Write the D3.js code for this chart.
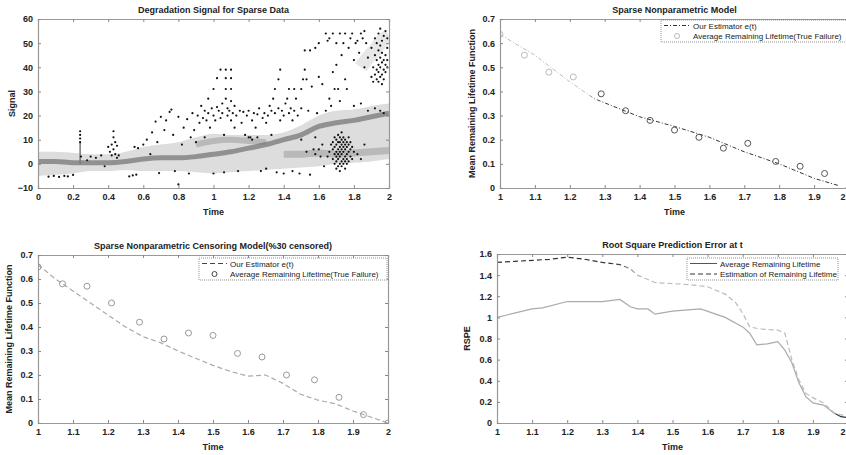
<!DOCTYPE html>
<html lang="en">
<head>
<meta charset="utf-8">
<title>Sparse degradation signal and remaining lifetime</title>
<script src="https://d3js.org/d3.v7.min.js"></script>
<style>
  body { margin: 0; background: #fff; }
  svg { display: block; font-family: "Liberation Sans", Arial, sans-serif; }
  .tick text { font-size: 9px; font-weight: bold; fill: #222; }
  .title { font-size: 9px; font-weight: bold; fill: #222; text-anchor: middle; }
  .alabel { font-size: 9px; font-weight: bold; fill: #222; text-anchor: middle; }
  .legend text { font-size: 8px; fill: #222; }
</style>
</head>
<body>
<div id="chart"></div>
<script>
// ---- panel 1: degradation signal ----
var bandTimes = [0, 0.1, 0.2, 0.3, 0.4, 0.5, 0.6, 0.7, 0.8, 0.9, 1.0, 1.1, 1.2, 1.3, 1.4, 1.5, 1.6, 1.7, 1.8, 1.9, 2.0];
var mainTrend = [1, 1, 0.5, 0.5, 0.5, 1, 2, 2.5, 2.5, 3, 4, 5, 6.5, 8, 10, 12, 15.5, 17, 18, 19.5, 21];
var hazeLow   = [-5, -4.5, -4, -3, -3, -2.5, -3, -3, -3, -3.5, -4, -3.5, -3, -2.5, -2, -1.5, -1, 0, 0.5, 1, 2];
var hazeHigh  = [5, 5, 4.5, 4, 4, 5, 7, 8, 9, 11, 12.5, 12, 12, 12, 13, 16, 20, 22, 22.5, 24, 25];
var upperBandTimes = [0.9, 1.0, 1.1, 1.2, 1.3];
var upperBand      = [8, 9.5, 10, 9.5, 9];
var lowerBandTimes = [1.4, 1.5, 1.6, 1.7, 1.8, 1.9, 2.0];
var lowerBand      = [4, 4, 4.5, 4, 4.5, 5, 5.5];
var topBandTimes = [1.84, 1.88, 1.92, 1.96, 2.0];
var topBand      = [40, 44, 47, 51, 53];

var signalDots = [
  [0.06,-5.3],[0.09,-5],[0.12,-5.4],[0.15,-5],[0.17,-5.2],[0.2,-4.6],
  [0.24,13.5],[0.24,12],[0.24,10.5],[0.24,9],[0.245,3],
  [0.28,1.5],[0.3,3],[0.33,2.5],[0.36,3.5],[0.38,-1],
  [0.4,7],[0.41,5],[0.42,8],[0.42,3.5],[0.43,13.5],[0.43,11],[0.43,6],[0.44,9],[0.44,4],[0.45,7.5],[0.45,2.5],[0.46,3.5],
  [0.52,-5.2],[0.54,-4.8],[0.56,-4.5],[0.55,7],[0.57,6.5],[0.6,8],[0.62,10],[0.64,4],[0.65,13],[0.67,17.5],[0.68,9],
  [0.69,-3.8],[0.7,19.5],[0.72,14],[0.73,18],[0.75,21.5],[0.76,22.5],[0.77,12],[0.78,-3],[0.8,19.5],[0.8,-8.5],[0.82,8],[0.83,15],
  [0.85,18.5],[0.86,-4],[0.87,11],[0.88,21],[0.89,14],[0.9,9],[0.91,20],[0.92,17],[0.93,24],[0.94,19],[0.95,22],[0.95,11],
  [0.96,18],[0.97,27],[0.97,21],[0.98,15],[0.99,23],[1.0,20],[1.0,31],[1.0,-4],[1.01,18],[1.02,23.5],[1.02,35.5],[1.03,22],
  [1.04,19],[1.04,39],[1.05,25],[1.05,21],[1.06,12],[1.06,-3.5],[1.07,39],[1.07,35.5],[1.07,31],[1.07,27],[1.08,23],[1.08,20],
  [1.09,22],[1.1,39],[1.1,35.5],[1.1,31],[1.1,26],[1.1,18],[1.11,21],[1.12,24],[1.12,15],[1.13,20],[1.14,-3],[1.15,22],
  [1.16,17],[1.17,21.5],[1.18,12],[1.19,20],[1.2,22],[1.2,11],[1.21,11],[1.22,18],[1.22,10],[1.23,21],[1.24,15],[1.25,20.5],
  [1.25,11],[1.26,23],[1.27,-3],[1.28,19],[1.29,21],[1.3,17],[1.3,-2],[1.31,20],[1.32,24],[1.33,22],[1.33,12],[1.34,27],
  [1.35,31],[1.35,21],[1.36,-3.5],[1.37,35],[1.37,23],[1.38,39],[1.38,18],[1.39,22],[1.4,20],[1.4,-4],[1.41,25],[1.42,27],
  [1.43,21],[1.43,31],[1.44,23],[1.45,18],[1.45,-3],[1.46,31],[1.46,22],[1.47,27],[1.48,20],[1.49,-4],[1.5,31],[1.5,23],
  [1.5,10],[1.51,35],[1.52,39],[1.52,47],[1.53,35],[1.53,5],[1.54,22],[1.55,47],[1.55,-4.5],[1.56,32],[1.57,6],[1.58,48],
  [1.58,11],[1.58,4],[1.59,21],[1.6,50],[1.6,36],[1.6,6],[1.61,3],[1.62,33],[1.62,8],[1.63,-1],[1.64,22],[1.64,54],[1.65,51],
  [1.65,3],[1.66,27],[1.66,52],[1.66,5],[1.67,24],[1.67,8],[1.68,38],[1.68,54],[1.69,31],[1.7,50],[1.7,41],[1.71,31],
  [1.72,54],[1.72,26],[1.73,45],[1.74,50],[1.75,54],[1.75,35],[1.76,31],[1.77,48],[1.78,52],[1.79,54],[1.8,43],[1.8,24],
  [1.81,50],[1.82,51],[1.83,46],[1.84,54],[1.84,25],[1.85,52],[1.86,55],[1.86,40],[1.87,50],[1.88,44],[1.88,22],
  [1.68,2],[1.68,6],[1.68,9],[1.69,0],[1.69,4],[1.69,7],[1.69,11],[1.7,-2],[1.7,1],[1.7,3],[1.7,5],[1.7,8],[1.7,10],
  [1.71,-1],[1.71,2],[1.71,4],[1.71,6],[1.71,9],[1.71,12],[1.72,-3],[1.72,0],[1.72,3],[1.72,5],[1.72,7],[1.72,9],[1.72,11],
  [1.73,-1],[1.73,1],[1.73,4],[1.73,6],[1.73,8],[1.73,10],[1.73,13],[1.74,0],[1.74,2],[1.74,5],[1.74,7],[1.74,9],[1.74,11],
  [1.75,-2],[1.75,1],[1.75,3],[1.75,6],[1.75,8],[1.75,10],[1.76,0],[1.76,2],[1.76,4],[1.76,7],[1.76,9],[1.77,1],[1.77,5],
  [1.77,8],[1.77,11],[1.78,3],[1.78,6],[1.78,9],[1.79,2],[1.79,7],[1.8,5],[1.82,4],[1.84,2],[1.86,8],
  [1.9,36],[1.9,48],[1.91,34],[1.91,40],[1.92,37],[1.92,45],[1.92,52],[1.93,35],[1.93,39],[1.93,43],[1.93,50],[1.94,34],
  [1.94,38],[1.94,41],[1.94,47],[1.94,54],[1.95,36],[1.95,40],[1.95,44],[1.95,49],[1.95,56],[1.96,33],[1.96,37],[1.96,42],
  [1.96,46],[1.96,51],[1.97,35],[1.97,39],[1.97,43],[1.97,53],[1.98,38],[1.98,41],[1.98,45],[1.98,55],[1.99,40],[1.99,43],
  [1.99,48],[1.99,52],[1.92,23],[1.95,22],[1.97,21]
];

// ---- panel 2: sparse nonparametric model ----
var trueTimes = [1.0, 1.07, 1.14, 1.21, 1.29, 1.36, 1.43, 1.5, 1.57, 1.64, 1.71, 1.79, 1.86, 1.93, 2.0];
var trueLifeFull = [0.636, 0.55, 0.48, 0.46, 0.39, 0.32, 0.28, 0.24, 0.21, 0.165, 0.185, 0.11, 0.09, 0.06, 0.0];
var estTimesFull = [1.0, 1.1, 1.2, 1.27, 1.4, 1.5, 1.6, 1.7, 1.8, 1.9, 1.97];
var estLifeFull  = [0.636, 0.55, 0.44, 0.37, 0.295, 0.255, 0.21, 0.15, 0.10, 0.04, 0.01];

// ---- panel 3: censoring model (30% censored) ----
var trueLifeCens = [0.65, 0.58, 0.57, 0.50, 0.42, 0.35, 0.375, 0.365, 0.29, 0.275, 0.20, 0.18, 0.107, 0.035, 0.0];
var estTimesCens = [1.0, 1.05, 1.1, 1.15, 1.2, 1.25, 1.3, 1.35, 1.4, 1.45, 1.5, 1.55, 1.6, 1.65, 1.7, 1.75, 1.8, 1.85, 1.9, 1.95, 2.0];
var estLifeCens  = [0.66, 0.6, 0.55, 0.5, 0.45, 0.4, 0.36, 0.335, 0.3, 0.27, 0.24, 0.215, 0.195, 0.2, 0.165, 0.12, 0.095, 0.08, 0.05, 0.025, 0.0];

// ---- panel 4: root square prediction error ----
var rspeAvgTimes = [1.0, 1.1, 1.13, 1.2, 1.3, 1.35, 1.38, 1.4, 1.43, 1.45, 1.5, 1.58, 1.65, 1.7, 1.72, 1.74, 1.77, 1.8, 1.82, 1.84, 1.86, 1.88, 1.9, 1.93, 1.96, 1.98, 2.0];
var rspeAvg      = [1.0, 1.08, 1.09, 1.15, 1.15, 1.17, 1.1, 1.08, 1.08, 1.03, 1.06, 1.08, 1.0, 0.91, 0.85, 0.74, 0.75, 0.77, 0.69, 0.57, 0.38, 0.25, 0.19, 0.17, 0.095, 0.06, 0.05];
var rspeEstTimes = [1.0, 1.05, 1.1, 1.15, 1.2, 1.25, 1.3, 1.35, 1.38, 1.4, 1.45, 1.5, 1.55, 1.6, 1.65, 1.68, 1.7, 1.72, 1.75, 1.8, 1.82, 1.84, 1.86, 1.88, 1.9, 1.93, 1.96, 2.0];
var rspeEst      = [1.52, 1.53, 1.54, 1.55, 1.57, 1.55, 1.52, 1.5, 1.46, 1.4, 1.33, 1.32, 1.31, 1.29, 1.22, 1.14, 1.04, 0.91, 0.89, 0.88, 0.85, 0.6, 0.41, 0.28, 0.24, 0.19, 0.095, 0.06];

var ticks02 = [0, 0.2, 0.4, 0.6, 0.8, 1, 1.2, 1.4, 1.6, 1.8, 2];
var ticks12 = [1, 1.1, 1.2, 1.3, 1.4, 1.5, 1.6, 1.7, 1.8, 1.9, 2];

var W = 846, H = 455;
var svg = d3.select("#chart").append("svg").attr("width", W).attr("height", H);
var defs = svg.append("defs");

function zip(xs, ys) { return xs.map(function(t, i) { return [t, ys[i]]; }); }

// one MATLAB-style axes box with inward ticks on all four sides
function panel(o) {
  var x = d3.scaleLinear().domain(o.xd).range([o.l, o.r]);
  var y = d3.scaleLinear().domain(o.yd).range([o.b, o.t]);
  var g = svg.append("g");
  var clipId = "clip" + o.id;
  defs.append("clipPath").attr("id", clipId).append("rect")
    .attr("x", o.l).attr("y", o.t).attr("width", o.r - o.l).attr("height", o.b - o.t);
  var plot = g.append("g").attr("clip-path", "url(#" + clipId + ")");

  var fmt = function(d) { return d3.format("")(+d.toFixed(1)); };
  var xb = g.append("g").attr("transform", "translate(0," + o.b + ")")
    .call(d3.axisBottom(x).tickValues(o.xt).tickSize(-3).tickPadding(6).tickFormat(fmt));
  // the panel runs off the page edge: keep its last label inside
  if (o.r > W - 4) {
    xb.selectAll(".tick text").filter(function(d) { return x(d) > W - 4; })
      .attr("text-anchor", "end").attr("dx", W - 1 - o.r);
  }
  g.append("g").attr("transform", "translate(0," + o.t + ")")
    .call(d3.axisTop(x).tickValues(o.xt).tickSize(-3).tickFormat(""));
  g.append("g").attr("transform", "translate(" + o.l + ",0)")
    .call(d3.axisLeft(y).tickValues(o.yt).tickSize(-3).tickPadding(5).tickFormat(fmt));
  g.append("g").attr("transform", "translate(" + o.r + ",0)")
    .call(d3.axisRight(y).tickValues(o.yt).tickSize(-3).tickFormat(""));
  g.selectAll(".domain").attr("stroke", "#999").attr("stroke-width", 1.2);
  g.selectAll(".tick line").attr("stroke", "#888");

  g.append("text").attr("class", "title").attr("x", (o.l + o.r) / 2).attr("y", o.t - 6).text(o.title);
  g.append("text").attr("class", "alabel").attr("x", (o.l + o.r) / 2).attr("y", o.b + 27).text("Time");
  g.append("text").attr("class", "alabel")
    .attr("transform", "translate(" + o.yl + "," + ((o.t + o.b) / 2) + ") rotate(-90)").text(o.ylabel);
  return { x: x, y: y, g: g, plot: plot };
}

// gradient so one line can fade between scan tones
function gradient(id, x, stops) {
  var gr = defs.append("linearGradient").attr("id", id).attr("gradientUnits", "userSpaceOnUse")
    .attr("x1", x.range()[0]).attr("x2", x.range()[1]).attr("y1", 0).attr("y2", 0);
  stops.forEach(function(s) {
    var off = (x(s[0]) - x.range()[0]) / (x.range()[1] - x.range()[0]);
    gr.append("stop").attr("offset", off).attr("stop-color", s[1]);
  });
  return "url(#" + id + ")";
}

function legend(g, bx, by, bw, tx, items) {
  var lg = g.append("g").attr("class", "legend");
  lg.append("rect").attr("x", bx).attr("y", by).attr("width", bw).attr("height", 22)
    .attr("fill", "#fff").attr("stroke", "#777").attr("stroke-width", 0.8).attr("stroke-dasharray", "1,1");
  items.forEach(function(it, i) {
    var yy = by + 5.5 + i * 10.5;
    if (it.kind === "line") {
      lg.append("line").attr("x1", bx + 3).attr("x2", bx + tx - 3).attr("y1", yy).attr("y2", yy)
        .attr("stroke", it.color).attr("stroke-width", 1).attr("stroke-dasharray", it.dash || null);
    } else {
      lg.append("circle").attr("cx", bx + tx / 2).attr("cy", yy).attr("r", 2.5)
        .attr("fill", "none").attr("stroke", it.color);
    }
    lg.append("text").attr("x", bx + tx).attr("y", yy + 3).text(it.label);
  });
}

var line = function(x, y) {
  return d3.line().x(function(d) { return x(d[0]); }).y(function(d) { return y(d[1]); });
};

// ---------- panel 1 ----------
var p1 = panel({ id: 1, l: 38, r: 389, t: 19, b: 188, xd: [0, 2], yd: [-10, 60],
  xt: ticks02, yt: [-10, 0, 10, 20, 30, 40, 50, 60],
  title: "Degradation Signal for Sparse Data", ylabel: "Signal", yl: 15 });
var haze = d3.area().curve(d3.curveMonotoneX)
  .x(function(d, i) { return p1.x(bandTimes[i]); })
  .y0(function(d, i) { return p1.y(hazeLow[i]); })
  .y1(function(d, i) { return p1.y(hazeHigh[i]); });
p1.plot.append("path").datum(bandTimes).attr("d", haze).attr("fill", "#d2d2d2").attr("opacity", 0.75);
[[upperBandTimes, upperBand, 6, "#aaa"], [lowerBandTimes, lowerBand, 7, "#aaa"], [topBandTimes, topBand, 14, "#ddd"]].forEach(function(b) {
  p1.plot.append("path").datum(zip(b[0], b[1])).attr("d", line(p1.x, p1.y).curve(d3.curveMonotoneX))
    .attr("fill", "none").attr("stroke", b[3]).attr("stroke-width", b[2]).attr("opacity", 0.7);
});
p1.plot.append("path").datum(zip(bandTimes, mainTrend)).attr("d", line(p1.x, p1.y).curve(d3.curveMonotoneX))
  .attr("fill", "none").attr("stroke", "#777").attr("stroke-width", 5).attr("opacity", 0.75);
p1.plot.append("line").attr("x1", p1.x(0.24)).attr("x2", p1.x(0.24)).attr("y1", p1.y(0)).attr("y2", p1.y(9))
  .attr("stroke", "#777").attr("stroke-width", 1.5);
p1.plot.selectAll(".dot").data(signalDots).enter().append("circle")
  .attr("cx", function(d) { return p1.x(d[0]); }).attr("cy", function(d) { return p1.y(d[1]); })
  .attr("r", 1.1).attr("fill", "#111");

// ---------- panel 2 ----------
var p2 = panel({ id: 2, l: 500, r: 849, t: 19, b: 188, xd: [1, 2], yd: [0, 0.7],
  xt: ticks12, yt: [0, 0.1, 0.2, 0.3, 0.4, 0.5, 0.6, 0.7],
  title: "Sparse Nonparametric Model", ylabel: "Mean Remaining Lifetime Function", yl: 475 });
p2.plot.append("path").datum(zip(estTimesFull, estLifeFull)).attr("d", line(p2.x, p2.y))
  .attr("fill", "none").attr("stroke-width", 1).attr("stroke-dasharray", "4,2,1,2")
  .attr("stroke", gradient("g2", p2.x, [[1.0, "#bbb"], [1.25, "#bbb"], [1.29, "#333"], [2, "#333"]]));
p2.plot.selectAll(".c").data(zip(trueTimes, trueLifeFull)).enter().append("circle")
  .attr("cx", function(d) { return p2.x(d[0]); }).attr("cy", function(d) { return p2.y(d[1]); })
  .attr("r", 3).attr("fill", "none").attr("stroke-width", 1)
  .attr("stroke", function(d) { return d[0] < 1.25 ? "#bbb" : "#555"; });
legend(p2.g, 661, 20, 200, 32, [
  { kind: "line", color: "#333", dash: "4,2,1,2", label: "Our Estimator e(t)" },
  { kind: "circle", color: "#bbb", label: "Average Remaining Lifetime(True Failure)" }
]);

// ---------- panel 3 ----------
var p3 = panel({ id: 3, l: 38, r: 388, t: 255, b: 423, xd: [1, 2], yd: [0, 0.7],
  xt: ticks12, yt: [0, 0.1, 0.2, 0.3, 0.4, 0.5, 0.6, 0.7],
  title: "Sparse Nonparametric Censoring Model(%30 censored)", ylabel: "Mean Remaining Lifetime Function", yl: 12 });
p3.plot.append("path").datum(zip(estTimesCens, estLifeCens)).attr("d", line(p3.x, p3.y))
  .attr("fill", "none").attr("stroke", "#aaa").attr("stroke-width", 1.2).attr("stroke-dasharray", "5,3");
p3.plot.selectAll(".c").data(zip(trueTimes, trueLifeCens)).enter().append("circle")
  .attr("cx", function(d) { return p3.x(d[0]); }).attr("cy", function(d) { return p3.y(d[1]); })
  .attr("r", 3).attr("fill", "none").attr("stroke", "#999").attr("stroke-width", 1);
legend(p3.g, 199, 258, 188, 31, [
  { kind: "line", color: "#444", dash: "5,3", label: "Our Estimator e(t)" },
  { kind: "circle", color: "#444", label: "Average Remaining Lifetime(True Failure)" }
]);

// ---------- panel 4 ----------
var p4 = panel({ id: 4, l: 497, r: 848, t: 254, b: 423, xd: [1, 2], yd: [0, 1.6],
  xt: ticks12, yt: [0, 0.2, 0.4, 0.6, 0.8, 1, 1.2, 1.4, 1.6],
  title: "Root Square Prediction  Error at t", ylabel: "RSPE", yl: 470 });
p4.plot.append("path").datum(zip(rspeAvgTimes, rspeAvg)).attr("d", line(p4.x, p4.y))
  .attr("fill", "none").attr("stroke-width", 1.2)
  .attr("stroke", gradient("g4a", p4.x, [[1.0, "#aaa"], [1.95, "#aaa"], [1.97, "#333"], [2, "#333"]]));
p4.plot.append("path").datum(zip(rspeEstTimes, rspeEst)).attr("d", line(p4.x, p4.y))
  .attr("fill", "none").attr("stroke-width", 1.2).attr("stroke-dasharray", "5,3")
  .attr("stroke", gradient("g4b", p4.x, [[1.0, "#333"], [1.34, "#333"], [1.4, "#bbb"], [2, "#bbb"]]));
legend(p4.g, 687, 258, 151, 33, [
  { kind: "line", color: "#555", label: "Average Remaining Lifetime" },
  { kind: "line", color: "#333", dash: "5,3", label: "Estimation of Remaining Lifetime" }
]);
</script>
</body>
</html>
